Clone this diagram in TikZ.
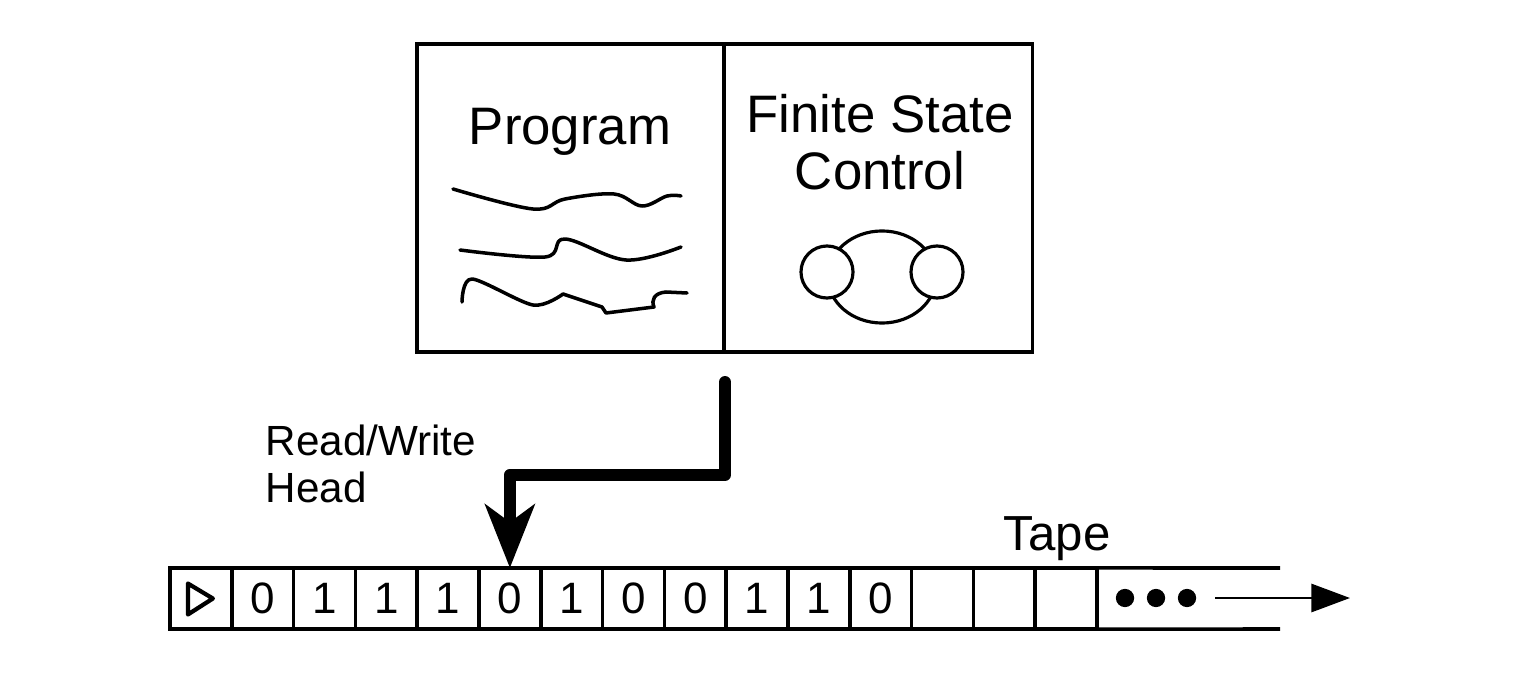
\documentclass[tikz,border=0pt]{standalone}
\usepackage{fontspec}
\setmainfont{Liberation Sans}
\usetikzlibrary{positioning,arrows.meta}
\tikzset{
  boxpart/.style={draw, line width=1pt, minimum width=3.07cm, minimum height=3.08cm,
    inner sep=0pt, outer sep=0pt},
  cell/.style={draw, line width=1pt, minimum width=0.618cm, minimum height=0.61cm,
    inner sep=0pt, outer sep=0pt, font=\fontsize{12.5}{14}\selectfont},
  bigtext/.style={inner sep=0pt, align=center, font=\fontsize{15}{16.2}\selectfont},
  scrawl/.style={line width=1pt, line cap=round, line join=round},
  headarrow/.style={line width=3.4pt, line cap=round, line join=round,
    -{Stealth[length=18pt,width=14pt,inset=5pt]}},
  tapearrow/.style={line width=0.75pt, -{Triangle[length=11pt,width=8pt]}}
}

\begin{document}
\begin{tikzpicture}[x=0.01cm, y=-0.01cm]
  \useasboundingbox (0,0) rectangle (1515,682);

  % machine box
  \node[boxpart] (prog) at (570.5,198) {};
  \node[boxpart, minimum width=3.08cm, right=0pt of prog] (fsc) {};
  \node[bigtext, anchor=base] (progtxt) at (570,145) {Program};
  \node[bigtext] (fsctxt) at (880,142) {Finite State\\Control};

  % program scribbles
  \draw[scrawl] plot[smooth, tension=0.6] coordinates {(453,189) (533,209) (565,199) (614,194) (642,206) (667,196) (681,196)};
  \draw[scrawl] plot[smooth, tension=0.6] coordinates {(460,250) (545,257) (565,239) (626,260) (681,247)};
  \draw[scrawl] plot[smooth, tension=0.5] coordinates {(462,302) (472,279) (533,305) (563,294)};
  \draw[scrawl] (563,294) -- (602,307) -- (606,313) -- (654,307)
    .. controls (651,300) and (654,293) .. (666,292) -- (687,293);

  % state control
  \draw[line width=0.9pt] (882,277) ellipse [x radius=0.54cm, y radius=0.46cm];
  \draw[line width=0.9pt, fill=white] (827,272) circle (0.26cm);
  \draw[line width=0.9pt, fill=white] (937,272) circle (0.26cm);

  % tape
  \foreach \d [count=\i from 0] in {{},0,1,1,1,0,1,0,0,1,1,0,{},{},{}}
    \node[cell] (c\i) at ({200.9+61.8*\i},598.5) {\d};
  \draw[line width=1.2pt, line join=round] (c0.center) ++(-13,-15) -- ++(25,15) -- ++(-25,16) -- cycle;
  \coordinate (tapetop) at (1280,568);
  \coordinate (tapebot) at (1280,629);
  \draw[line width=1pt] (c14.north east) -- (tapetop);
  \draw[line width=1pt] (c14.south east) -- (tapebot);
  \foreach \x in {1125,1156,1187}
    \fill (\x,598) circle (2.6pt);
  \coordinate (arrstart) at (1215,598);
  \coordinate (arrend) at (1350,598);
  \draw[tapearrow] (arrstart) -- (arrend);
  \node[font=\fontsize{14}{16}\selectfont, inner sep=0pt, anchor=base] (tapelbl) at (1057,550) {Tape};

  % read/write head
  \coordinate (headtop) at (725,382);
  \draw[headarrow] (headtop) -- ++(0,93) -| (c5.north);
  \node[font=\fontsize{12}{13.4}\selectfont, inner sep=0pt, align=left, anchor=north west] (headlbl) at (265,424) {Read/Write\\Head};
\end{tikzpicture}
\end{document}
